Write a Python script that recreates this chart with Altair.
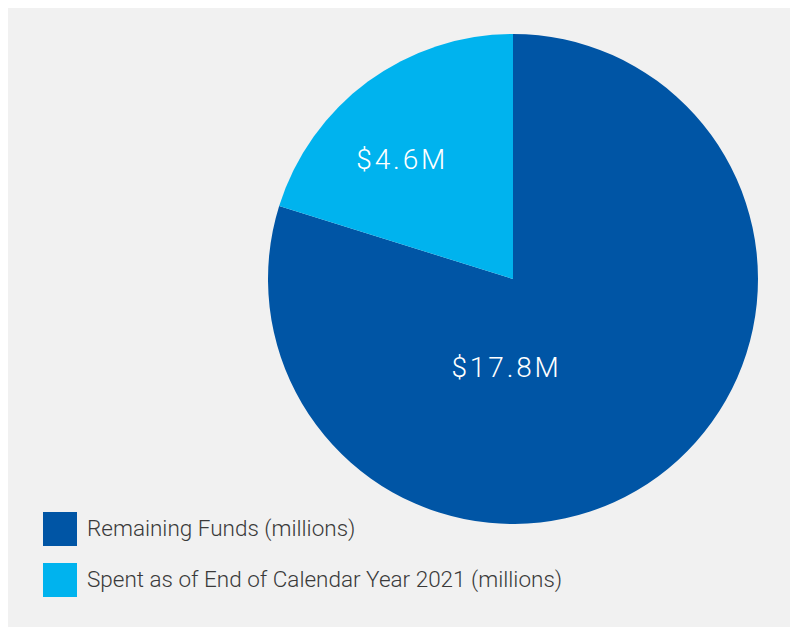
import altair as alt
import pandas as pd
import math

categories = ["Remaining Funds (millions)", "Spent as of End of Calendar Year 2021 (millions)"]
values = [17.8, 4.5]
labels = ["$\u200a1\u200a7\u200a.\u200a8\u200aM", "$\u200a4\u200a.\u200a6\u200aM"]
colors = ["#0055A5", "#00B3EE"]
label_angle_deg = [185, 316.5]
label_radius = [90, 163]

df = pd.DataFrame({
    "category": categories,
    "value": values,
    "label": labels,
    "order": [0, 1],
    "la": [math.radians(a) for a in label_angle_deg],
    "lr": label_radius,
})

cx, cy, R = 505, 271, 245

base = alt.Chart(df)

pie = base.mark_arc(outerRadius=R).encode(
    theta=alt.Theta("value:Q", stack=True),
    order=alt.Order("order:Q"),
    color=alt.Color(
        "category:N",
        scale=alt.Scale(domain=categories, range=colors),
        legend=alt.Legend(
            title=None,
            orient="none",
            legendX=35,
            legendY=504,
            symbolType="square",
            symbolSize=1156,
            symbolStrokeWidth=0,
            symbolOpacity=1,
            labelFont="Roboto",
            labelFontWeight=300,
            labelFontSize=22.5,
            labelColor="#3a3a3a",
            labelOffset=10,
            labelLimit=600,
            rowPadding=17,
            padding=0,
        ),
    ),
    x=alt.value(cx),
    y=alt.value(cy),
)

text = base.mark_text(
    font="Roboto", fontWeight=300, fontSize=28, color="white",
    align="center", baseline="middle",
).encode(
    theta=alt.Theta("la:Q", scale=None),
    radius=alt.Radius("lr:Q", scale=None),
    text="label:N",
    x=alt.value(cx),
    y=alt.value(cy),
)

chart = (pie + text).properties(
    width=782, height=619, padding=0, background="#f1f1f1", autosize="none"
).configure_view(stroke=None)

chart.save("out.html", embed_options={"renderer": "svg", "actions": False})
